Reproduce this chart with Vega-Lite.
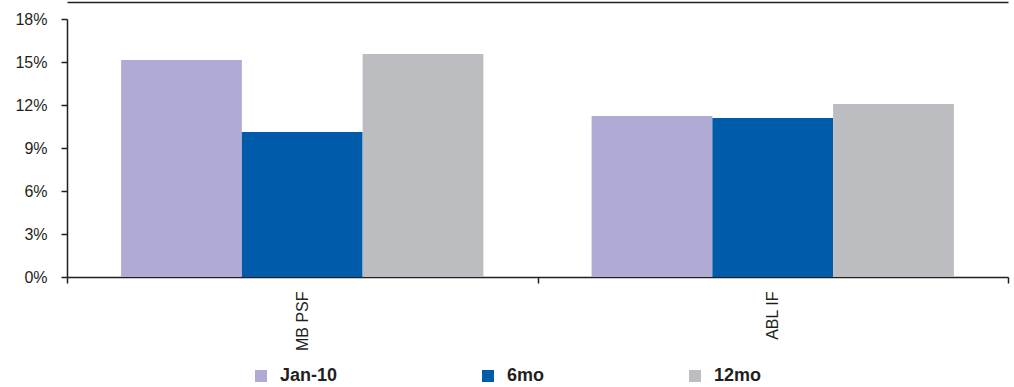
{
  "$schema": "https://vega.github.io/schema/vega-lite/v6.json",
  "width": 941,
  "height": 258,
  "autosize": {"type": "none"},
  "padding": {"left": 67, "top": 19, "right": 6, "bottom": 110},
  "background": "white",
  "config": {
    "view": {"stroke": null},
    "font": "Liberation Sans",
    "axis": {"labelFont": "Liberation Sans", "labelColor": "#231f20", "domainColor": "#231f20", "tickColor": "#231f20", "grid": false, "title": null}
  },
  "data": {
    "values": [
      {"fund": "MB PSF", "period": "Jan-10", "value": 0.1514},
      {"fund": "MB PSF", "period": "6mo", "value": 0.1012},
      {"fund": "MB PSF", "period": "12mo", "value": 0.1556},
      {"fund": "ABL IF", "period": "Jan-10", "value": 0.1123},
      {"fund": "ABL IF", "period": "6mo", "value": 0.1109},
      {"fund": "ABL IF", "period": "12mo", "value": 0.1207}
    ]
  },
  "layer": [
    {
      "mark": {"type": "bar"},
      "encoding": {
        "x": {
          "field": "fund", "type": "nominal", "sort": ["MB PSF", "ABL IF"],
          "scale": {"paddingInner": 0, "paddingOuter": 0},
          "axis": {"labelAngle": -90, "labelFontSize": 16, "labelAlign": "right", "labelBaseline": "middle", "tickBand": "extent", "tickSize": 6, "tickWidth": 1.5, "domainWidth": 1.5, "labelPadding": 8}
        },
        "xOffset": {"field": "period", "type": "nominal", "sort": ["Jan-10", "6mo", "12mo"], "scale": {"paddingInner": 0, "paddingOuter": 0.448}},
        "y": {
          "field": "value", "type": "quantitative",
          "scale": {"domain": [0, 0.18], "nice": false},
          "axis": {"values": [0, 0.03, 0.06, 0.09, 0.12, 0.15, 0.18], "format": ".0%", "labelFontSize": 16, "tickSize": 6, "tickWidth": 1.5, "domainWidth": 1.5, "labelPadding": 14}
        },
        "color": {
          "field": "period", "type": "nominal", "sort": ["Jan-10", "6mo", "12mo"],
          "scale": {"domain": ["Jan-10", "6mo", "12mo"], "range": ["#b0abd4", "#005baa", "#bcbdc1"]},
          "legend": {
            "title": null, "orient": "none", "direction": "horizontal",
            "legendX": 185, "legendY": 348,
            "symbolType": "square", "symbolSize": 144, "symbolStrokeWidth": 0,
            "labelFontSize": 18, "labelFontWeight": "bold", "labelColor": "#231f20",
            "labelOffset": 10, "columnPadding": 141, "padding": 0
          }
        }
      }
    },
    {
      "mark": {"type": "tick", "opacity": 0},
      "encoding": {
        "x": {
          "field": "fund", "type": "nominal", "sort": ["MB PSF", "ABL IF"],
          "axis": {"orient": "top", "labels": false, "ticks": false, "offset": 17, "domainWidth": 1.5}
        },
        "y": {"field": "value", "type": "quantitative"}
      }
    }
  ],
  "resolve": {"axis": {"x": "independent"}}
}
